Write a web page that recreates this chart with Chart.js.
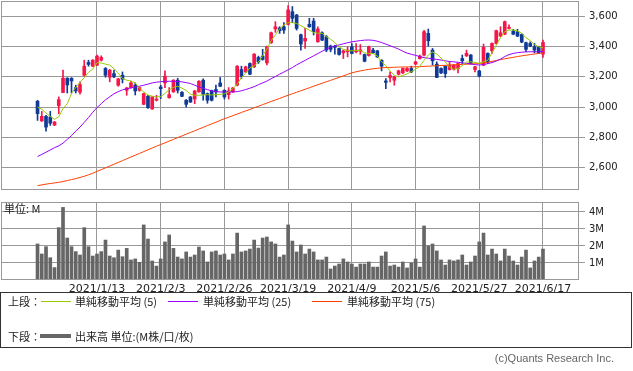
<!DOCTYPE html>
<html>
<head>
<meta charset="utf-8">
<script src="https://cdn.jsdelivr.net/npm/chart.js@4.4.0/dist/chart.umd.min.js"></script>
<style>
  body { margin: 0; background: #fff; width: 633px; height: 371px; overflow: hidden; position: relative; }
  canvas { position: absolute; left: 0; }
  .t { position: absolute; font-family: "Noto Sans CJK JP", sans-serif; font-size: 11px; line-height: 14px; color: #222; white-space: nowrap; }
  .ln { position: absolute; height: 1px; width: 30px; }
</style>
</head>
<body>
<canvas id="priceChart" width="633" height="195" style="top:0"></canvas>
<canvas id="volChart" width="633" height="100" style="top:195px"></canvas>
<div class="t" style="left:4px; top:201px;">単位: M</div>

<div style="position:absolute; left:0; top:292px; width:630px; height:54px; border:1px solid #333;"></div>
<div class="t" style="left:8px; top:294px;">上段：</div>
<div class="ln" style="left:41px; top:301px; background:#99cc00;"></div>
<div class="t" style="left:75px; top:294px;">単純移動平均 (5)</div>
<div class="ln" style="left:168px; top:301px; background:#9900ff;"></div>
<div class="t" style="left:203px; top:294px;">単純移動平均 (25)</div>
<div class="ln" style="left:312px; top:301px; background:#ff4000;"></div>
<div class="t" style="left:347px; top:294px;">単純移動平均 (75)</div>
<div class="t" style="left:8px; top:329px;">下段：</div>
<div class="ln" style="left:40px; top:334px; height:4px; width:31px; background:#666;"></div>
<div class="t" style="left:75px; top:329px;">出来高 単位:(M株/口/枚)</div>
<div class="t" style="right:19px; top:351px; color:#666; font-family:'Liberation Sans', sans-serif;">(c)Quants Research Inc.</div>

<script>
// trading days from 2020/12/21, Tokyo market holidays skipped
const startDate = '2020-12-21';
const holidays = ['2020-12-31', '2021-01-01', '2021-01-11', '2021-02-11', '2021-02-23',
  '2021-04-29', '2021-05-03', '2021-05-04', '2021-05-05'];
const tickIndex = [14, 29, 44, 59, 74, 89, 104, 119];
const priceTicks = [2600, 2800, 3000, 3200, 3400, 3600];
const volTicks = [1, 2, 3, 4];

const open = [3038,2907,2938,2933,2880,3009,3096,3191,3191,3129,3098,3211,3296,3271,3278,3311,3256,3198,3222,3145,
  3211,3111,3129,3145,3111,3018,3071,2987,3045,3133,3160,3062,3100,3178,3098,3045,3067,3053,3100,3178,
  3089,3107,3116,3160,3111,3082,3100,3145,3249,3233,3289,3267,3329,3338,3293,3427,3518,3525,3533,3549,
  3633,3611,3480,3438,3549,3571,3433,3493,3467,3404,3404,3389,3360,3367,3400,3367,3370,3349,3342,3378,
  3373,3311,3173,3196,3178,3218,3227,3240,3256,3285,3322,3345,3489,3378,3285,3256,3271,3249,3251,3256,
  3322,3340,3345,3249,3240,3278,3356,3373,3422,3471,3484,3522,3504,3500,3482,3427,3422,3400,3400,3351];
const close = [2956,2938,2867,2893,2900,3049,3191,3147,3173,3107,3149,3271,3283,3311,3338,3329,3211,3245,3200,3187,
  3185,3127,3160,3107,3129,3089,2996,3067,3052,3122,3205,3082,3178,3111,3071,3018,3033,3107,3171,3085,
  3045,3045,3100,3138,3067,3107,3127,3271,3205,3267,3218,3351,3300,3316,3400,3493,3533,3507,3511,3645,
  3589,3522,3418,3456,3533,3500,3518,3444,3378,3383,3396,3349,3373,3378,3356,3378,3380,3304,3400,3360,
  3333,3271,3164,3209,3200,3240,3256,3256,3233,3300,3338,3500,3440,3307,3196,3227,3222,3278,3278,3289,
  3307,3356,3289,3267,3205,3396,3300,3422,3507,3493,3567,3529,3484,3471,3431,3383,3404,3378,3360,3429];
const high = [3045,2971,2945,2971,2905,3067,3245,3195,3195,3145,3167,3311,3311,3315,3345,3340,3262,3250,3245,3190,
  3233,3130,3173,3160,3133,3092,3078,3070,3078,3145,3240,3129,3182,3191,3102,3050,3070,3110,3175,3187,
  3093,3112,3145,3196,3115,3129,3131,3275,3271,3271,3293,3355,3338,3383,3404,3497,3567,3533,3560,3673,
  3667,3615,3485,3522,3589,3589,3533,3500,3475,3411,3410,3392,3378,3400,3422,3422,3415,3352,3404,3389,
  3376,3314,3189,3233,3205,3245,3260,3262,3271,3304,3345,3509,3518,3389,3300,3260,3275,3300,3282,3293,
  3345,3378,3349,3271,3244,3418,3360,3427,3511,3533,3571,3545,3516,3516,3486,3431,3433,3422,3404,3444];
const low = [2911,2905,2840,2878,2876,2956,3096,3093,3093,3093,3085,3205,3271,3268,3275,3305,3198,3167,3195,3138,
  3160,3078,3125,3080,3105,3015,2990,2985,3040,3056,3129,3058,3098,3093,3068,3000,3030,3022,3098,3045,
  3025,3040,3067,3135,3053,3053,3097,3140,3189,3230,3215,3262,3289,3311,3280,3422,3496,3489,3489,3545,
  3560,3511,3378,3389,3529,3478,3430,3440,3367,3367,3351,3345,3322,3333,3352,3360,3350,3300,3338,3356,
  3329,3240,3122,3167,3145,3212,3222,3235,3229,3280,3318,3340,3404,3278,3196,3222,3196,3245,3245,3227,
  3289,3335,3285,3233,3200,3274,3289,3356,3418,3467,3480,3518,3480,3467,3427,3367,3400,3360,3356,3329];
// volume, million shares
const volume = [2.12,1.53,1.96,1.31,0.73,3.08,4.27,2.47,1.96,1.67,1.47,3.08,1.96,1.41,1.53,1.67,2.35,1.41,1.31,1.76,
  1.37,1.86,1.18,1.24,1.04,3.24,2.41,1.12,0.82,1.24,2.24,2.65,1.86,1.35,1.24,1.65,1.35,1.47,1.94,1.71,
  1.06,1.65,1.71,1.47,1.53,1.18,1.53,2.76,1.65,1.71,1.82,2.35,1.88,2.47,2.53,2.24,2.12,1.35,1.47,3.24,
  2.29,1.65,2.06,1.53,1.82,1.65,1.18,1.18,1.35,0.65,0.82,0.94,1.24,1.06,0.94,0.76,0.94,0.94,1.06,0.76,
  0.76,1.41,1.65,0.82,0.88,0.76,1.06,0.71,1.00,1.24,0.76,3.18,2.00,2.12,1.71,1.18,0.88,1.18,1.12,1.18,
  1.47,0.88,1.06,1.41,2.24,2.76,1.47,1.82,1.53,1.12,1.82,1.41,1.12,0.88,1.35,1.76,0.71,1.12,1.35,1.82];
const ma5 = [3000,2985,2960,2938,2918,2935,2990,3022,3090,3130,3165,3195,3230,3252,3295,3292,3285,3278,3255,3225,
  3190,3178,3172,3160,3125,3100,3080,3072,3067,3070,3090,3115,3130,3138,3125,3110,3085,3078,3078,3080,
  3082,3080,3082,3084,3088,3100,3125,3150,3195,3225,3260,3272,3298,3340,3385,3440,3480,3520,3545,3560,
  3560,3555,3540,3525,3510,3495,3490,3490,3468,3450,3428,3400,3383,3375,3373,3376,3375,3360,3356,3355,
  3340,3300,3275,3240,3210,3200,3210,3220,3235,3250,3270,3310,3345,3365,3352,3325,3300,3265,3250,3255,
  3275,3298,3300,3296,3290,3300,3310,3360,3410,3460,3500,3511,3512,3505,3490,3460,3440,3415,3400,3393];
const ma25 = [2671,2685,2700,2715,2730,2742,2760,2785,2810,2840,2867,2898,2930,2965,2996,3022,3048,3068,3088,3102,
  3114,3121,3127,3133,3138,3145,3152,3160,3165,3168,3170,3171,3171,3170,3167,3162,3156,3145,3133,3125,
  3115,3108,3102,3100,3100,3100,3100,3102,3108,3116,3125,3135,3148,3160,3172,3188,3202,3218,3232,3247,
  3262,3280,3295,3310,3325,3340,3355,3370,3385,3397,3405,3412,3420,3427,3433,3437,3441,3444,3445,3443,
  3437,3428,3418,3407,3396,3385,3370,3358,3350,3343,3335,3328,3324,3320,3316,3312,3307,3302,3300,3297,
  3293,3290,3286,3281,3279,3282,3288,3295,3305,3318,3335,3348,3356,3361,3364,3366,3367,3367,3367,3368];
const ma75 = [2478,2483,2488,2492,2496,2500,2505,2512,2518,2525,2532,2540,2550,2560,2573,2584,2596,2608,2620,2632,
  2644,2656,2668,2680,2692,2704,2716,2728,2740,2751,2762,2774,2785,2797,2808,2820,2831,2842,2854,2865,
  2877,2888,2899,2911,2922,2932,2943,2953,2964,2974,2984,2995,3005,3016,3026,3037,3047,3057,3068,3078,
  3088,3098,3108,3118,3128,3138,3148,3158,3168,3177,3187,3197,3207,3217,3227,3234,3240,3245,3250,3254,
  3257,3260,3262,3263,3264,3265,3266,3266,3267,3267,3268,3270,3271,3273,3274,3276,3277,3279,3280,3282,
  3283,3284,3286,3287,3289,3293,3298,3303,3309,3315,3320,3325,3330,3335,3340,3344,3348,3352,3356,3360];

function tradingDays(start, n) {
  const out = [];
  const d = new Date(start + 'T00:00:00Z');
  while (out.length < n) {
    const iso = d.toISOString().slice(0, 10);
    const wd = d.getUTCDay();
    if (wd !== 0 && wd !== 6 && !holidays.includes(iso)) {
      out.push(d.getUTCFullYear() + '/' + (d.getUTCMonth() + 1) + '/' + d.getUTCDate());
    }
    d.setUTCDate(d.getUTCDate() + 1);
  }
  return out;
}
const dates = tradingDays(startDate, close.length);

const upColor = '#f5164a';
const downColor = '#0f3a96';
const gridColor = '#999999';
const xMin = -8.6, xMax = 127.48;

Chart.defaults.font.family = "'DejaVu Sans', sans-serif";
Chart.defaults.font.size = 10;
Chart.defaults.color = '#222';

const frame = {
  id: 'frame',
  afterDraw(chart) {
    const a = chart.chartArea, ctx = chart.ctx;
    ctx.save();
    ctx.strokeStyle = gridColor;
    ctx.lineWidth = 1;
    ctx.strokeRect(Math.round(a.left) + 0.5, Math.round(a.top) + 0.5,
      Math.round(a.right - a.left) - 1, Math.round(a.bottom - a.top) - 1);
    ctx.restore();
  }
};

function xScale(showLabels) {
  return {
    type: 'linear', min: xMin, max: xMax, offset: false,
    afterBuildTicks: s => { s.ticks = tickIndex.map(v => ({ value: v })); },
    afterFit: s => { s.height = showLabels ? 15 : 0; s.paddingLeft = 0; s.paddingRight = 0; },
    grid: { color: gridColor, drawTicks: false, offset: false },
    border: { display: false },
    ticks: {
      display: showLabels, autoSkip: false, maxRotation: 0, padding: 3,
      font: { size: 11 },
      callback: v => dates[v]
    }
  };
}

const idx = close.map((c, i) => i);
const candleColor = ctx => close[ctx.dataIndex] >= open[ctx.dataIndex] ? upColor : downColor;

new Chart(document.getElementById('priceChart'), {
  data: {
    datasets: [
      { type: 'line', data: idx.map(i => ({ x: i, y: ma5[i] })), borderColor: '#99cc00', borderWidth: 1, pointRadius: 0, order: 0 },
      { type: 'line', data: idx.map(i => ({ x: i, y: ma25[i] })), borderColor: '#9900ff', borderWidth: 1, pointRadius: 0, order: 0 },
      { type: 'line', data: idx.map(i => ({ x: i, y: ma75[i] })), borderColor: '#ff4000', borderWidth: 1, pointRadius: 0, order: 0 },
      { type: 'bar', data: idx.map(i => ({ x: i, y: [open[i], close[i]] })), backgroundColor: candleColor,
        barThickness: 3, minBarLength: 1, grouped: false, order: 1 },
      { type: 'bar', data: idx.map(i => ({ x: i, y: [low[i], high[i]] })), backgroundColor: candleColor,
        barThickness: 1, grouped: false, order: 2 }
    ]
  },
  options: {
    responsive: false, animation: false, devicePixelRatio: 1,
    layout: { padding: { top: 1, left: 1, right: 0, bottom: 5 } },
    plugins: { legend: { display: false }, tooltip: { enabled: false } },
    scales: {
      x: xScale(false),
      y: {
        position: 'right', min: 2449, max: 3704,
        afterBuildTicks: s => { s.ticks = priceTicks.map(v => ({ value: v })); },
        afterFit: s => { s.width = 54; s.paddingTop = 0; s.paddingBottom = 0; },
        grid: { color: gridColor, tickLength: 6 },
        border: { display: false },
        ticks: { padding: 4, callback: v => v.toLocaleString('en-US') }
      }
    }
  },
  plugins: [frame]
});

new Chart(document.getElementById('volChart'), {
  type: 'bar',
  data: {
    datasets: [
      { data: idx.map(i => ({ x: i, y: volume[i] })), backgroundColor: '#666666', barThickness: 3 }
    ]
  },
  options: {
    responsive: false, animation: false, devicePixelRatio: 1,
    layout: { padding: { top: 7, left: 1, right: 0, bottom: 0 } },
    plugins: { legend: { display: false }, tooltip: { enabled: false } },
    scales: {
      x: xScale(true),
      y: {
        position: 'right', min: 0, max: 4.588,
        afterBuildTicks: s => { s.ticks = volTicks.map(v => ({ value: v })); },
        afterFit: s => { s.width = 54; s.paddingTop = 0; s.paddingBottom = 0; },
        grid: { color: gridColor, tickLength: 6 },
        border: { display: false },
        ticks: { padding: 4, callback: v => v + 'M' }
      }
    }
  },
  plugins: [frame]
});
</script>
</body>
</html>
